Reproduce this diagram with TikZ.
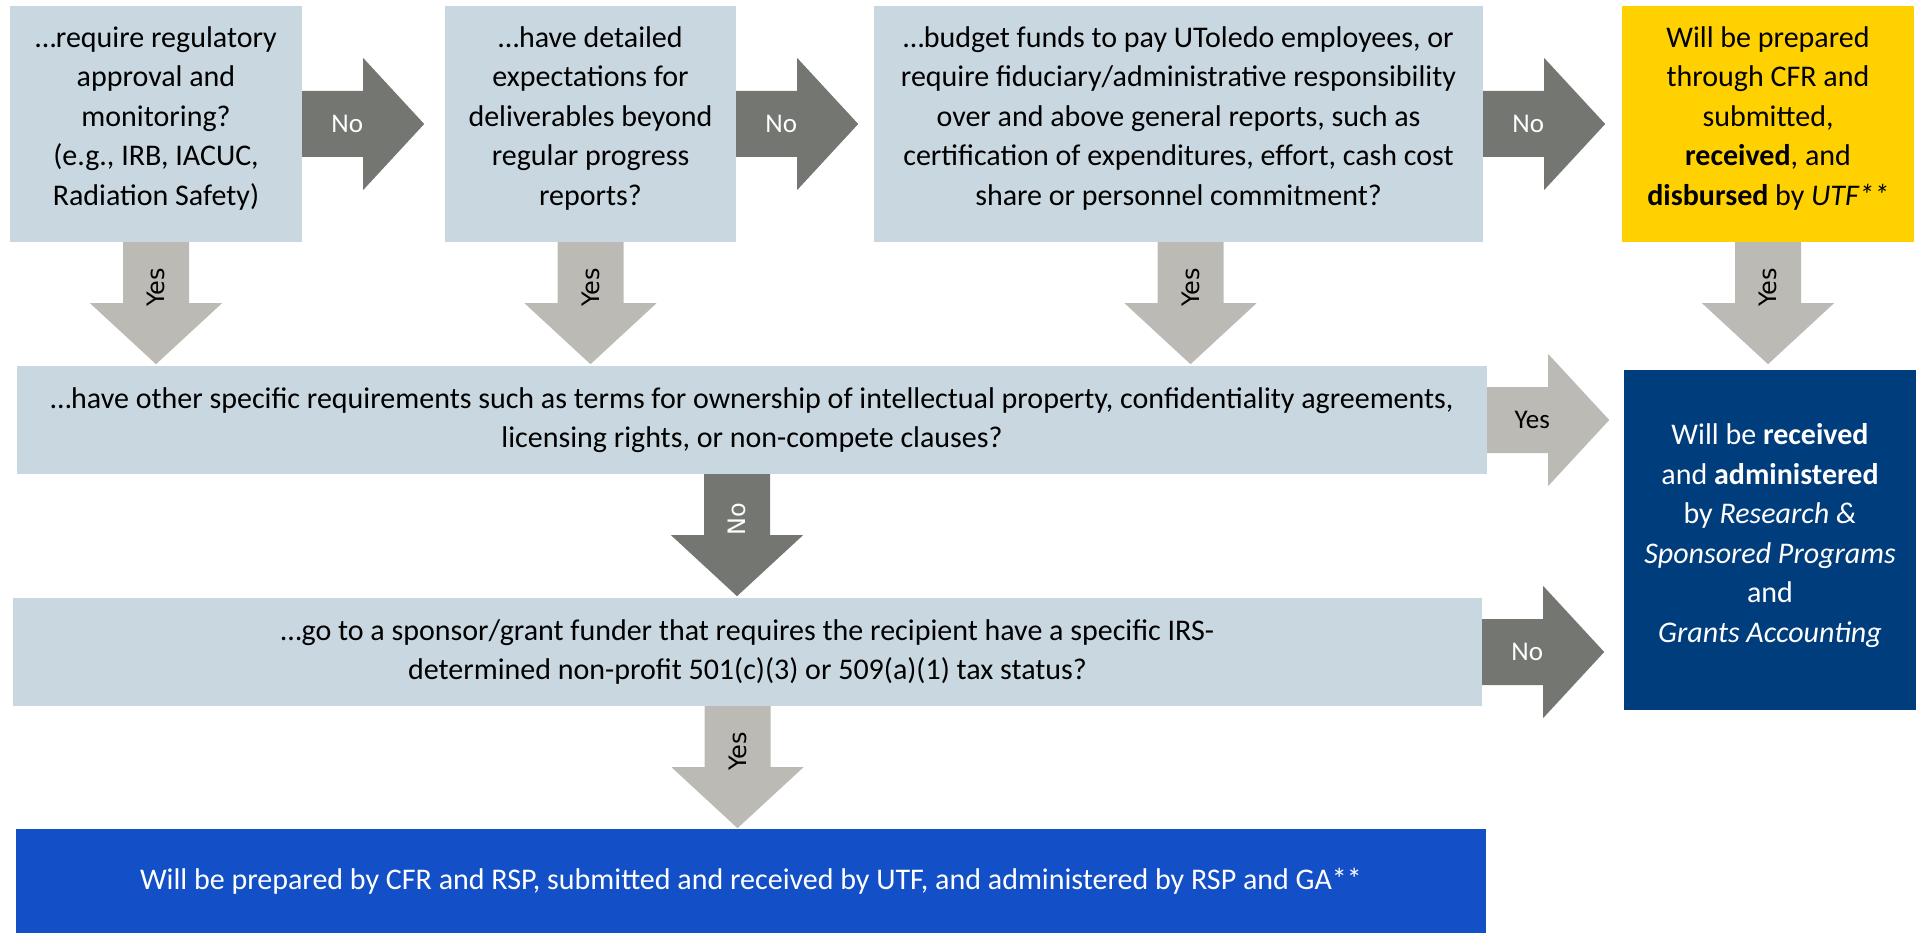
\documentclass[tikz,border=0pt]{standalone}
\usepackage{fontspec}
\setmainfont{Carlito}
\newfontfamily\tagfont{DejaVu Sans}
\usepackage{tikz}
\usetikzlibrary{calc}

\definecolor{boxgray}{HTML}{C9D7E0}
\definecolor{darkarrow}{HTML}{747672}
\definecolor{lightarrow}{HTML}{BBBAB5}
\definecolor{utfyellow}{HTML}{FFD100}
\definecolor{rspnavy}{HTML}{003D7C}
\definecolor{cfrblue}{HTML}{134FC6}

\tikzset{
	question/.style={fill=boxgray, text=black, align=center, inner sep=0pt,
		font=\fontsize{30}{39.5}\selectfont},
	outcome/.style={question, fill=#1},
	hlabel/.style={font=\fontsize{27}{30}\selectfont},
	vlabel/.style={font=\tagfont\fontsize{24}{28}\selectfont, rotate=90}
}

% block arrow: start, direction, fill, label style, label
\newcommand{\blockarrow}[5]{
	\begin{scope}[shift={(#1)}, rotate=#2]
		\fill[#3] (0,-33) -- (61,-33) -- (61,-66) -- (122,0) -- (61,66) -- (61,33) -- (0,33) -- cycle;
		\node[#4] at (45,0) {#5};
	\end{scope}
}

\begin{document}
\begin{tikzpicture}[x=1pt, y=1pt]
	\useasboundingbox (0,0) rectangle (1921,-933);
	
	% top row
	\node[question, minimum width=292, minimum height=236, text depth=16] (q1) at (156,-124)
		{…require regulatory\\approval and\\monitoring?\\(e.g., IRB, IACUC,\\Radiation Safety)};
	\node[question, minimum width=291, minimum height=236, text depth=16] (q2) at (590.5,-124)
		{…have detailed\\expectations for\\deliverables beyond\\regular progress\\reports?};
	\node[question, minimum width=609, minimum height=236, text depth=16] (q3) at (1178.5,-124)
		{…budget funds to pay UToledo employees, or\\require fiduciary/administrative responsibility\\over and above general reports, such as\\certification of expenditures, effort, cash cost\\share or personnel commitment?};
	\node[outcome=utfyellow, minimum width=292, minimum height=236, text depth=16] (utf) at (1768,-124)
		{Will be prepared\\through CFR and\\submitted,\\\textbf{received}, and\\\textbf{disbursed} by \textit{UTF**}};
	
	% middle rows
	\node[question, minimum width=1470, minimum height=108] (q4) at (752,-420)
		{…have other specific requirements such as terms for ownership of intellectual property, confidentiality agreements,\\licensing rights, or non-compete clauses?};
	\node[outcome=rspnavy, text=white, minimum width=292, minimum height=340, text depth=14] (rsp) at (1770,-540)
		{Will be \textbf{received}\\and \textbf{administered}\\by \textit{Research \&}\\\textit{Sponsored Programs}\\and\\\textit{Grants Accounting}};
	\node[question, minimum width=1469, minimum height=108] (q5) at (747.5,-652)
		{…go to a sponsor/grant funder that requires the recipient have a specific IRS-\\determined non-profit 501(c)(3) or 509(a)(1) tax status?};
	
	% bottom
	\node[outcome=cfrblue, text=white, minimum width=1470, minimum height=104] (cfr) at (751,-881)
		{Will be prepared by CFR and RSP, submitted and received by UTF, and administered by RSP and GA**};
	
	\coordinate (d3) at ($(q3.south)+(12,0)$);
	\coordinate (d4) at ($(q4.south)+(-15,0)$);
	\coordinate (d5) at ($(q5.south)+(-10,0)$);
	
	\foreach \x in {q1.east, q2.east, q3.east}{
		\blockarrow{\x}{0}{darkarrow}{hlabel, text=white}{No}
	}
	\foreach \x in {q1.south, q2.south, d3, utf.south}{
		\blockarrow{\x}{-90}{lightarrow}{vlabel, text=black}{Yes}
	}
	\blockarrow{q4.east}{0}{lightarrow}{hlabel, text=black}{Yes}
	\blockarrow{d4}{-90}{darkarrow}{vlabel, text=white}{No}
	\blockarrow{q5.east}{0}{darkarrow}{hlabel, text=white}{No}
	\blockarrow{d5}{-90}{lightarrow}{vlabel, text=black}{Yes}
\end{tikzpicture}
\end{document}
